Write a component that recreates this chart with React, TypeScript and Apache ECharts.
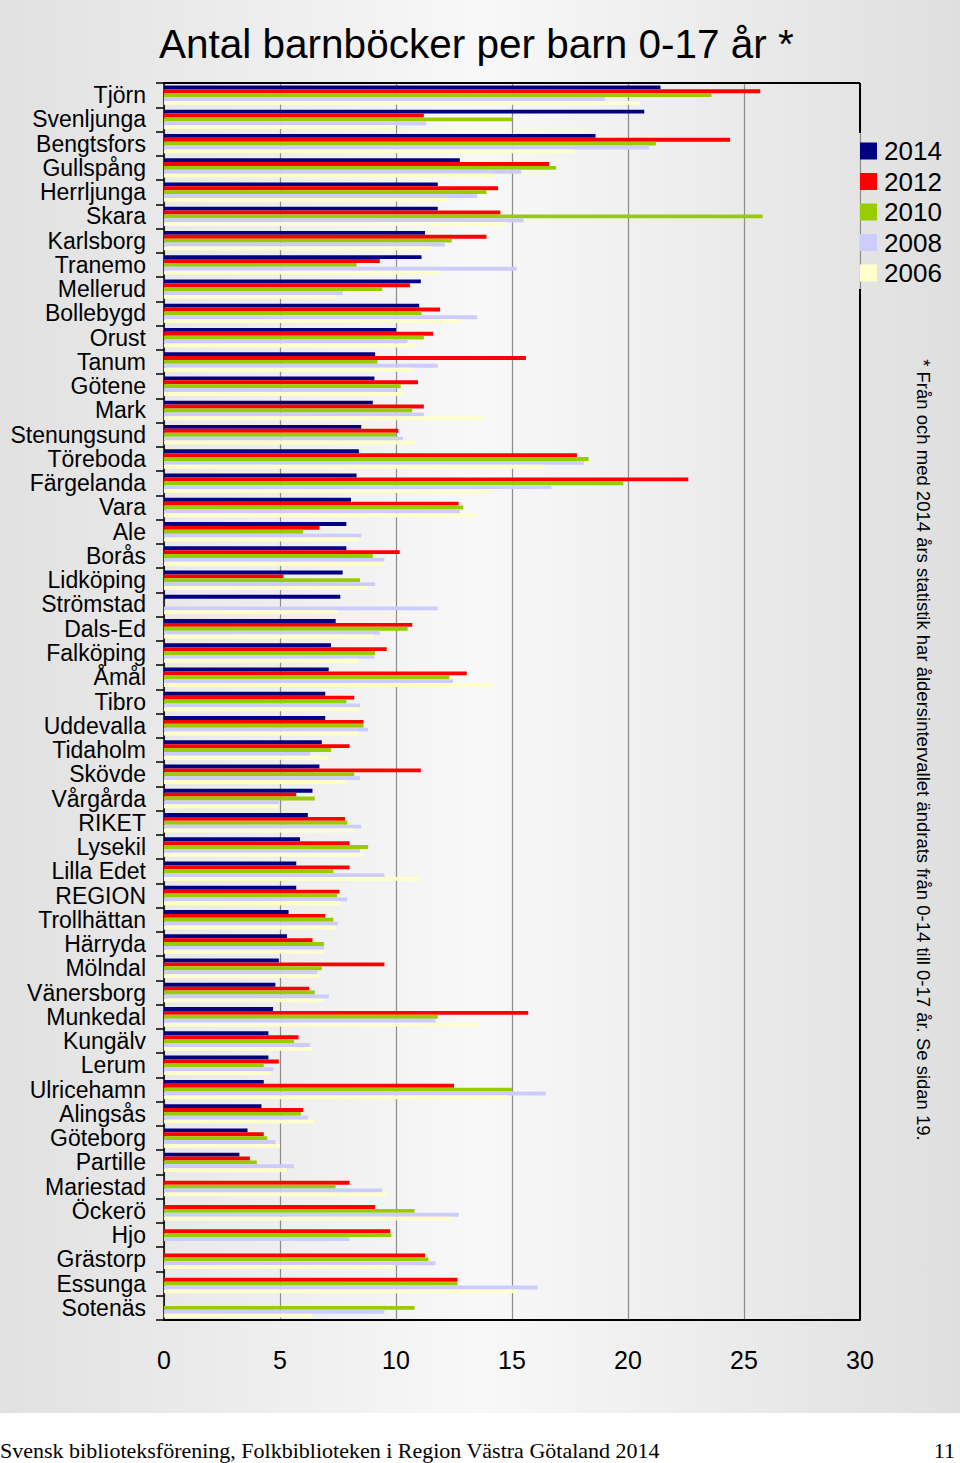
import React, { useEffect, useRef } from "react";
import * as echarts from "echarts";

const categories = [
  "Tjörn", "Svenljunga", "Bengtsfors", "Gullspång", "Herrljunga", "Skara", "Karlsborg",
  "Tranemo", "Mellerud", "Bollebygd", "Orust", "Tanum", "Götene", "Mark", "Stenungsund",
  "Töreboda", "Färgelanda", "Vara", "Ale", "Borås", "Lidköping", "Strömstad", "Dals-Ed",
  "Falköping", "Åmål", "Tibro", "Uddevalla", "Tidaholm", "Skövde", "Vårgårda", "RIKET",
  "Lysekil", "Lilla Edet", "REGION", "Trollhättan", "Härryda", "Mölndal", "Vänersborg",
  "Munkedal", "Kungälv", "Lerum", "Ulricehamn", "Alingsås", "Göteborg", "Partille",
  "Mariestad", "Öckerö", "Hjo", "Grästorp", "Essunga", "Sotenäs",
];

const v2014 = [21.4, 20.7, 18.6, 12.75, 11.8, 11.8, 11.25, 11.1, 11.07, 11.0, 10.0, 9.1, 9.07, 9.0, 8.5, 8.4, 8.3, 8.06, 7.86, 7.86, 7.7, 7.6, 7.4, 7.2, 7.1, 6.95, 6.95, 6.8, 6.7, 6.4, 6.2, 5.86, 5.7, 5.7, 5.37, 5.3, 4.95, 4.8, 4.7, 4.5, 4.5, 4.3, 4.2, 3.6, 3.25, null, null, null, null, null, null];
const v2012 = [25.7, 11.2, 24.4, 16.6, 14.4, 14.5, 13.9, 9.3, 10.6, 11.9, 11.6, 15.6, 10.95, 11.2, 10.1, 17.8, 22.6, 12.7, 6.7, 10.16, 5.15, null, 10.7, 9.6, 13.05, 8.2, 8.6, 8.0, 11.07, 5.7, 7.8, 8.0, 8.0, 7.56, 6.95, 6.4, 9.5, 6.26, 15.7, 5.8, 4.95, 12.5, 6.0, 4.3, 3.7, 8.0, 9.1, 9.75, 11.25, 12.65, null];
const v2010 = [23.6, 15.0, 21.2, 16.9, 13.9, 25.8, 12.4, 8.3, 9.4, 11.1, 11.2, 9.2, 10.2, 10.7, 10.0, 18.3, 19.8, 12.9, 6.0, 9.0, 8.45, null, 10.5, 9.1, 12.3, 7.86, 8.6, 7.2, 8.2, 6.5, 7.9, 8.8, 7.3, 7.46, 7.3, 6.9, 6.8, 6.5, 11.8, 5.6, 4.3, 15.0, 5.9, 4.45, 4.0, 7.4, 10.8, 9.8, 11.4, 12.65, 10.8];
const v2008 = [19.0, 11.3, 20.9, 15.4, 13.5, 15.5, 12.1, 15.2, 7.7, 13.5, 10.5, 11.8, 10.0, 11.2, 10.3, 18.1, 16.7, 12.75, 8.5, 9.5, 9.1, 11.8, 9.3, 9.07, 12.45, 8.45, 8.8, 6.3, 8.45, 4.95, 8.5, 8.45, 9.5, 7.9, 7.5, 6.9, 6.6, 7.1, 11.7, 6.3, 4.7, 16.45, 6.2, 4.8, 5.6, 9.4, 12.7, 8.0, 11.7, 16.1, 9.5];
const v2006 = [20.5, 10.0, 17.7, 14.2, 12.3, 14.7, 11.5, 11.9, 7.4, 12.8, 10.8, 10.7, 10.3, 13.8, 10.85, 16.4, 14.0, 13.4, 8.4, 9.5, 8.8, 7.5, 9.0, 8.4, 14.1, 8.4, 8.4, 7.1, 7.9, 4.9, 8.2, 8.6, 11.05, 7.6, 7.4, 6.9, 6.7, 6.9, 13.6, 6.4, 4.6, 14.8, 6.5, 5.0, 5.3, 9.6, 12.4, null, 9.9, 15.2, 6.4];

const seriesNames = ["2014", "2012", "2010", "2008", "2006"];
const seriesValues = [v2014, v2012, v2010, v2008, v2006];
const seriesColors = ["#000080", "#FF0000", "#99CC00", "#CCCCFF", "#FFFFCC"];

const xTicks = { min: 0, max: 30, interval: 5 };

const TITLE = "Antal barnböcker per barn 0-17 år *";
const NOTE = "* Från och med 2014 års statistik har åldersintervallet ändrats från 0-14 till 0-17 år. Se sidan 19.";
const FOOTER = "Svensk biblioteksförening, Folkbiblioteken i Region Västra Götaland 2014";
const PAGE = "11";

const W = 960;
const H = 1463;
const GRID = { left: 164, top: 83, right: 860, bottom: 1320 };
const SANS = "'Liberation Sans', Arial, sans-serif";
const SERIF = "'Liberation Serif', 'Times New Roman', serif";

export default function App() {
  const ref = useRef<HTMLDivElement>(null);

  useEffect(() => {
    document.body.style.margin = "0";
    if (!ref.current) return;
    const chart = echarts.init(ref.current, undefined, { renderer: "svg" });

    const option: any = {
      animation: false,
      title: {
        text: TITLE,
        left: 154,
        top: 18,
        textStyle: { fontFamily: SANS, fontSize: 40.5, fontWeight: "normal", color: "#000" },
      },
      legend: {
        data: seriesNames,
        orient: "vertical",
        left: 860,
        top: 138,
        padding: 0,
        itemWidth: 17,
        itemHeight: 17,
        itemGap: 4.5,
        icon: "rect",
        textStyle: { fontFamily: SANS, fontSize: 26, lineHeight: 26, color: "#000", padding: [0, 0, 0, 2] },
      },
      grid: {
        left: GRID.left,
        top: GRID.top,
        width: GRID.right - GRID.left,
        height: GRID.bottom - GRID.top,
        containLabel: false,
      },
      xAxis: {
        type: "value",
        min: xTicks.min,
        max: xTicks.max,
        interval: xTicks.interval,
        axisLine: { show: true, lineStyle: { color: "#000", width: 2 } },
        axisTick: { show: false },
        axisLabel: { fontFamily: SANS, fontSize: 25, color: "#000", margin: 27 },
        splitLine: { show: true, lineStyle: { color: "#8c8c8c", width: 1.2 } },
      },
      yAxis: {
        type: "category",
        inverse: true,
        data: categories,
        axisLine: { show: true, lineStyle: { color: "#000", width: 1.5 } },
        axisTick: { show: true, length: 8, lineStyle: { color: "#000", width: 1.5 } },
        axisLabel: { fontFamily: SANS, fontSize: 23, color: "#000", margin: 18, interval: 0 },
        splitLine: { show: false },
      },
      series: seriesNames.map((name, i) => ({
        name,
        type: "bar",
        data: seriesValues[i],
        barGap: "0%",
        barCategoryGap: "20%",
        itemStyle: { color: seriesColors[i] },
      })),
      graphic: [
        {
          type: "rect",
          z: -100,
          silent: true,
          shape: { x: 0, y: 0, width: W, height: 1413 },
          style: {
            fill: new echarts.graphic.LinearGradient(0, 0, 1, 0, [
              { offset: 0, color: "#e1e1e1" },
              { offset: 0.5, color: "#f8f8f8" },
              { offset: 1, color: "#dfdfdf" },
            ]),
          },
        },
        {
          type: "line",
          z: 10,
          shape: { x1: GRID.left, y1: GRID.top, x2: GRID.right, y2: GRID.top },
          style: { stroke: "#000", lineWidth: 2 },
        },
        {
          type: "line",
          z: 10,
          shape: { x1: GRID.right, y1: GRID.top, x2: GRID.right, y2: 133 },
          style: { stroke: "#000", lineWidth: 2 },
        },
        {
          type: "line",
          z: 10,
          shape: { x1: GRID.right, y1: 289, x2: GRID.right, y2: GRID.bottom },
          style: { stroke: "#000", lineWidth: 2 },
        },
        {
          type: "text",
          x: 923,
          y: 750,
          rotation: -Math.PI / 2,
          style: {
            text: NOTE,
            fontFamily: SANS,
            fontSize: 18.5,
            fill: "#000",
            align: "center",
            verticalAlign: "middle",
          },
        },
        {
          type: "text",
          x: 0,
          y: 1450,
          style: {
            text: FOOTER,
            fontFamily: SERIF,
            fontSize: 22,
            fill: "#000",
            align: "left",
            verticalAlign: "middle",
          },
        },
        {
          type: "text",
          x: 955,
          y: 1450,
          style: {
            text: PAGE,
            fontFamily: SERIF,
            fontSize: 22,
            fill: "#000",
            align: "right",
            verticalAlign: "middle",
          },
        },
      ],
    };

    chart.setOption(option);
    return () => chart.dispose();
  }, []);

  return <div ref={ref} style={{ width: W, height: H }} />;
}
